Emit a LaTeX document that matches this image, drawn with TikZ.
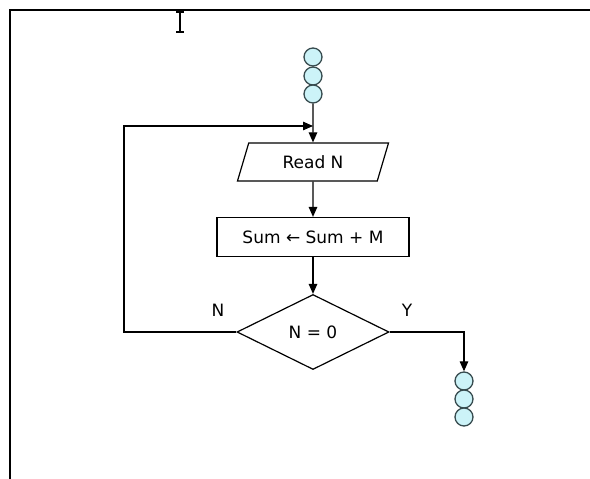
\documentclass[tikz,border=0pt]{standalone}
\usepackage{fontspec}
\setmainfont{DejaVu Sans}
\usepackage{tikz}
\usetikzlibrary{positioning,arrows.meta,shapes.geometric}
\definecolor{termfill}{RGB}{204,243,248}
\definecolor{termline}{RGB}{55,75,78}

\begin{document}
\begin{tikzpicture}[x=1pt,y=-1pt,
  line width=1.2pt,
  every node/.style={font=\fontsize{17}{20}\selectfont},
  arr/.style={-{Triangle[length=10pt,width=8.5pt]}},
  term/.style={circle,draw=termline,fill=termfill,minimum size=18pt,inner sep=0pt,line width=1.3pt},
  io/.style={trapezium,draw,trapezium left angle=68,trapezium right angle=112,trapezium stretches=true,minimum width=152pt,minimum height=38pt,inner sep=0pt},
  proc/.style={rectangle,draw,minimum width=192pt,minimum height=39pt,inner sep=0pt},
  decide/.style={diamond,draw,minimum width=152pt,minimum height=75pt,inner sep=0pt}]
\useasboundingbox (0,0) rectangle (590,479);
% page frame and text cursor
\draw[line width=1.4pt] (590,10) -- (10,10) -- (10,479);
\draw[line width=1.2pt] (180,12) -- (180,32) (176,12) -- (184,12) (176,32) -- (184,32);
% entry connector
\node[term] (top1) at (313,57) {};
\node[term] (top2) at (313,76) {};
\node[term] (top3) at (313,94) {};
\coordinate (join) at (313,126);
% steps
\node[io] (read) at (313,162) {Read N};
\node[proc] (sum) at (313,237) {Sum ← Sum + M};
\node[decide] (test) at (313,332) {N = 0};
% exit connector
\node[term] (bot1) at (464,381) {};
\node[term] (bot2) at (464,399) {};
\node[term] (bot3) at (464,417) {};
% flow
\draw[arr] (top3.south) -- (read.north);
\draw[arr] (read.south) -- (sum.north);
\draw[arr] (sum.south) -- (test.north);
\draw[arr] (test.west) -- (124,332) |- (join);
\draw[arr] (test.east) -| (bot1.north);
\node (nolab) at (218,310) {N};
\node (yeslab) at (407,310) {Y};
\end{tikzpicture}
\end{document}
